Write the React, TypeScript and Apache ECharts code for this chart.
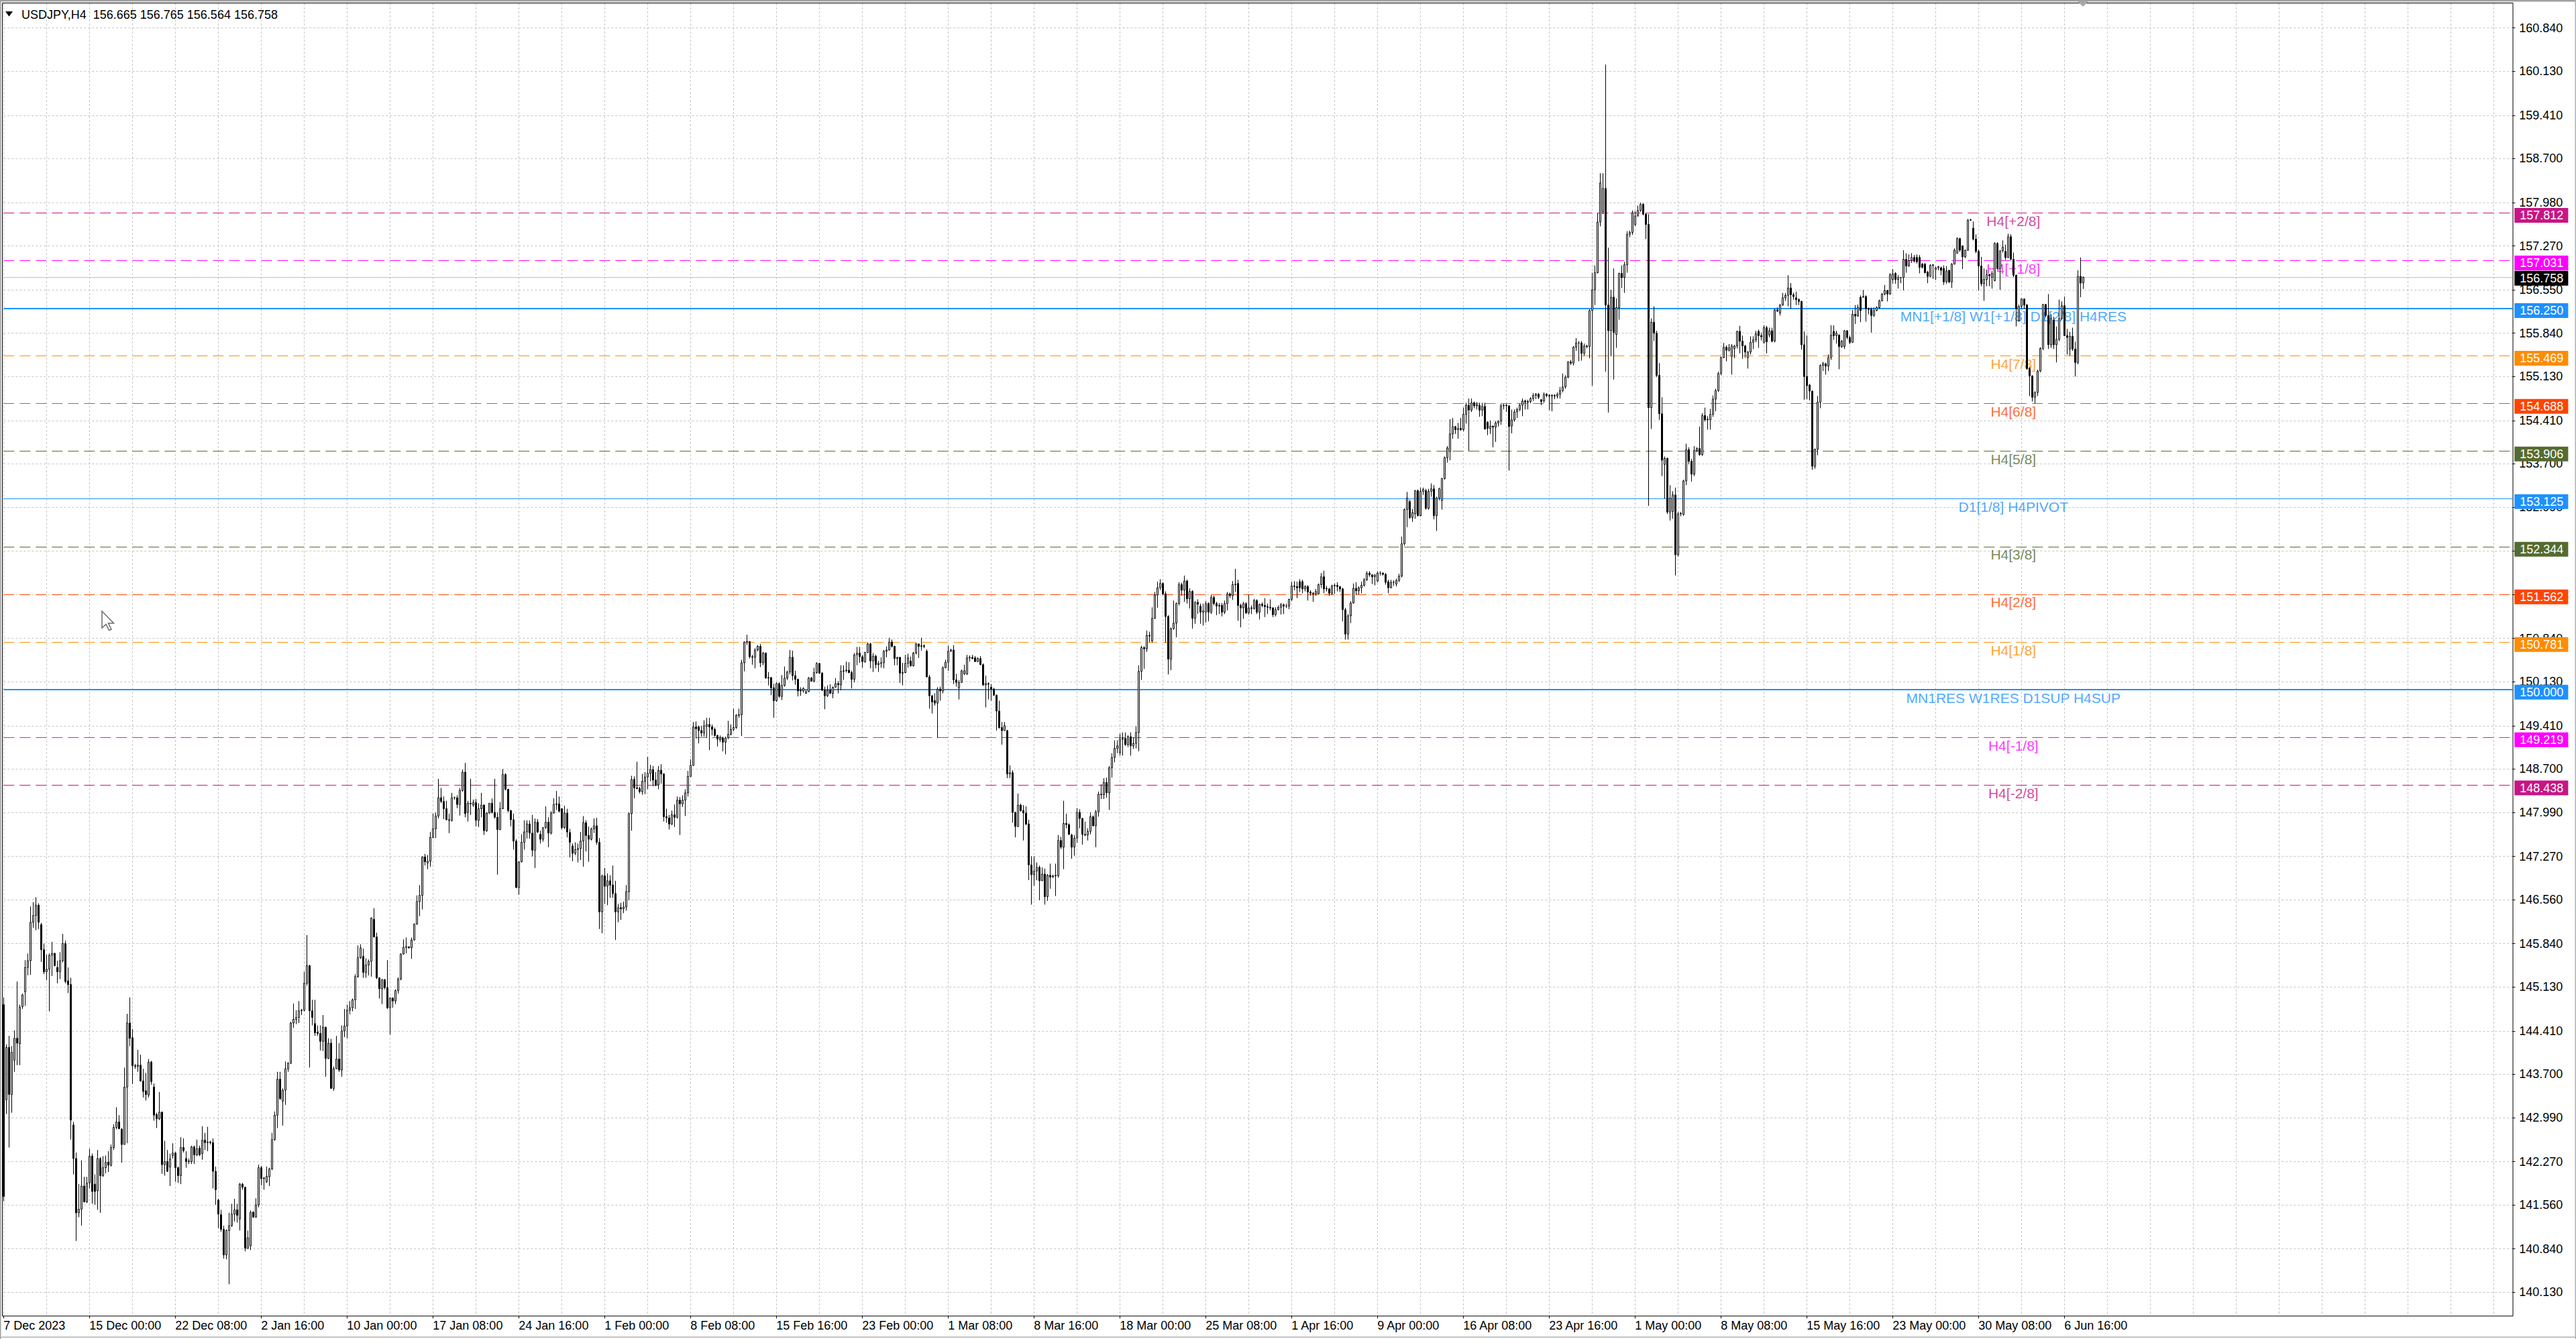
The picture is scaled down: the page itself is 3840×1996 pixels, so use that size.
import React, { useEffect, useRef } from "react";
import * as echarts from "echarts";

// ---------------- DATA ----------------
const symbolTitle = "USDJPY,H4";
const lastOHLC = [156.665, 156.765, 156.564, 156.758];

const xTickLabels = [
  "7 Dec 2023", "15 Dec 00:00", "22 Dec 08:00", "2 Jan 16:00", "10 Jan 00:00",
  "17 Jan 08:00", "24 Jan 16:00", "1 Feb 00:00", "8 Feb 08:00", "15 Feb 16:00",
  "23 Feb 00:00", "1 Mar 08:00", "8 Mar 16:00", "18 Mar 00:00", "25 Mar 08:00",
  "1 Apr 16:00", "9 Apr 00:00", "16 Apr 08:00", "23 Apr 16:00", "1 May 00:00",
  "8 May 08:00", "15 May 16:00", "23 May 00:00", "30 May 08:00", "6 Jun 16:00",
];

const yTicks = [
  140.13, 140.84, 141.56, 142.27, 142.99, 143.7, 144.41, 145.13, 145.84, 146.56,
  147.27, 147.99, 148.7, 149.41, 150.13, 150.84, 151.56, 152.27, 152.99, 153.7,
  154.41, 155.13, 155.84, 156.55, 157.27, 157.98, 158.7, 159.41, 160.13, 160.84,
];

const levelPrices = [157.812, 157.031, 156.25, 155.469, 154.688, 153.906, 153.125, 152.344, 151.562, 150.781, 150.0, 149.219, 148.438];
const levelNames = [
  "H4[+2/8]", "H4[+1/8]", "MN1[+1/8] W1[+1/8] D1[2/8] H4RES", "H4[7/8]", "H4[6/8]", "H4[5/8]",
  "D1[1/8] H4PIVOT", "H4[3/8]", "H4[2/8]", "H4[1/8]", "MN1RES W1RES D1SUP H4SUP", "H4[-1/8]", "H4[-2/8]",
];
const bidPrice = 156.758;

// candles: [open, close, low, high]
const candlesDec = [
[144.84,141.70,141.62,144.96],[143.28,144.14,143.05,144.19],[144.14,143.37,142.50,144.33],[143.37,144.06,143.07,144.16],
[143.93,144.29,143.74,144.42],[144.29,144.21,143.85,145.22],[144.20,144.80,143.85,144.84],[144.81,145.00,144.77,145.02],
[145.05,145.45,144.82,145.57],[145.45,145.56,145.32,145.68],[145.56,146.19,145.33,146.45],[146.19,146.30,146.10,146.52],
[146.30,146.47,146.06,146.60],[146.47,146.19,146.08,146.50],[146.15,145.74,145.54,146.18],[145.74,145.38,145.34,145.84],
[145.38,145.42,145.24,145.66],[145.42,145.65,144.73,145.68],[145.65,145.68,145.31,145.87],[145.68,145.48,145.47,145.69],
[145.45,145.38,145.19,145.56],[145.38,145.56,145.26,145.70],[145.56,145.84,145.53,146.00],[145.84,145.22,145.19,145.89],
[145.23,145.17,145.03,145.45],[145.17,142.95,142.63,145.28],[142.87,142.32,142.06,142.92],[142.32,141.43,140.97,142.42],
[141.43,141.49,141.36,141.90],[141.49,141.87,141.22,142.29],[141.87,141.61,141.60,142.02],[141.61,141.92,141.59,142.02],
[141.92,142.36,141.83,142.48],[142.36,141.78,141.58,142.40],[141.90,141.78,141.56,142.06],[141.79,142.32,141.48,142.46],
[142.32,142.04,141.43,142.34],[142.04,142.17,142.02,142.36],[142.17,142.26,142.08,142.37],[142.26,142.21,142.10,142.44],
[142.21,142.50,142.19,142.55],[142.50,142.83,142.46,142.88],[142.83,142.92,142.80,143.16],[142.92,142.81,142.80,143.03],
[142.80,142.55,142.25,142.82],[142.55,143.49,142.55,143.81],[143.49,144.54,142.57,144.69],[144.54,144.29,144.16,144.96],
[144.30,143.84,143.54,144.44],[143.84,143.83,143.79,143.87],[143.83,143.85,143.74,144.10],[143.85,143.59,143.58,144.02],
[143.59,143.42,143.32,143.79],[143.43,143.37,143.27,143.72],[143.36,143.90,143.32,143.95],[143.90,143.58,143.53,143.92],
[143.49,143.03,142.94,143.55],[143.04,142.97,142.82,143.07],[142.97,143.08,142.95,143.41],[143.08,142.22,142.07,143.09],
[142.22,142.27,142.04,142.61],[142.27,142.11,142.10,142.46],[142.18,142.31,141.87,142.40],[142.37,142.41,142.32,142.57],
[142.41,142.17,141.94,142.43],[142.17,142.04,141.92,142.19],[142.04,142.50,141.90,142.67],[142.50,142.45,142.42,142.65],
[142.32,142.27,142.17,142.44],[142.27,142.28,142.23,142.32],[142.27,142.51,142.23,142.53],[142.51,142.38,142.23,142.53],
[142.38,142.48,142.36,142.63],[142.49,142.38,142.36,142.53],[142.40,142.62,142.30,142.85],[142.62,142.58,142.46,142.74],
[142.58,142.59,142.44,142.84],[142.59,142.58,142.55,142.61],[142.58,142.11,141.83,142.65],[142.11,141.81,141.56,142.19],
[141.64,141.41,141.18,141.66],[141.40,141.16,141.12,141.48],[141.16,140.74,140.68,141.22],[140.74,141.14,140.67,141.16],
[141.14,141.22,140.26,141.43],[141.22,141.41,141.20,141.58],[141.41,141.48,141.29,141.66],[141.48,141.39,141.27,141.58],
[141.33,141.90,141.14,141.92],[141.90,141.85,141.81,141.92],[141.85,140.85,140.80,141.85],[140.85,141.02,140.84,141.14],
];

const candlesJan = [
[140.89,141.44,140.82,141.47],[141.44,141.36,141.35,141.46],[141.36,141.56,141.35,141.67],[141.56,142.17,141.52,142.22],
[142.17,141.99,141.88,142.20],[141.99,142.00,141.81,142.02],[141.94,142.03,141.92,142.19],[142.02,142.15,141.87,142.17],
[142.15,142.63,142.13,142.74],[142.63,143.03,142.61,143.09],[143.03,143.62,142.82,143.74],[143.62,143.30,143.28,143.74],
[143.26,143.44,142.86,143.47],[143.44,143.79,143.20,143.91],[143.79,143.88,143.74,143.90],[143.88,144.54,143.87,144.56],
[144.54,144.60,144.46,144.86],[144.60,144.63,144.52,144.75],[144.63,144.74,144.54,144.90],[144.74,144.75,144.67,144.77],
[144.75,145.19,144.73,145.38],[145.19,145.48,145.15,145.98],[145.48,144.74,143.81,145.49],[144.74,144.63,144.50,144.92],
[144.53,144.38,144.33,144.92],[144.39,144.37,144.33,144.50],[144.37,144.24,144.09,144.50],[144.24,144.47,144.08,144.67],
[144.47,143.96,143.66,144.48],[143.96,144.21,143.95,144.29],[144.21,143.47,143.46,144.28],[143.47,143.79,143.43,143.83],
[143.79,143.95,143.79,144.33],[143.95,143.77,143.74,144.21],[143.77,144.41,143.66,144.50],[144.41,144.49,144.31,144.77],
[144.49,144.75,144.29,144.84],[144.75,144.79,144.68,144.90],[144.79,144.92,144.73,144.94],[144.92,145.30,144.77,145.34],
[145.30,145.61,145.28,145.81],[145.61,145.77,145.59,145.83],[145.63,145.37,145.28,145.76],[145.37,145.49,145.28,145.60],
[145.49,145.55,145.32,145.58],[145.55,146.26,145.30,146.27],[146.24,145.95,145.94,146.42],[145.95,145.28,145.26,146.02],
[145.28,145.10,144.94,145.29],[145.10,145.25,144.85,145.26],[145.25,145.12,145.09,145.26],[145.12,144.79,144.77,145.57],
[144.79,144.95,144.35,144.96],[144.95,144.90,144.79,144.96],[144.90,145.07,144.85,145.09],[145.07,145.26,145.02,145.29],
[145.26,145.67,145.24,145.68],[145.67,145.78,145.66,145.91],[145.78,145.79,145.68,145.94],[145.79,145.77,145.76,145.79],
[145.77,145.90,145.59,145.94],[145.90,146.16,145.89,146.17],[146.16,146.53,146.15,146.63],[146.53,146.63,146.29,146.80],
[146.63,147.26,146.40,147.27],[147.26,147.18,147.12,147.31],[147.16,147.19,147.06,147.29],[147.19,147.58,147.10,147.67],
[147.58,147.72,147.57,147.97],[147.72,147.93,147.57,147.99],[147.93,148.23,147.89,148.54],[148.23,148.17,148.14,148.39],
[148.17,148.05,147.88,148.25],[148.05,147.87,147.86,148.18],[147.87,147.86,147.65,147.97],[147.86,148.23,147.84,148.31],
[148.23,148.23,148.20,148.25],[148.23,148.12,148.06,148.27],[148.12,148.35,147.94,148.39],[148.35,148.65,148.33,148.69],
[148.65,147.97,147.91,148.80],[147.99,148.14,147.84,148.18],[148.14,148.13,147.95,148.54],[148.11,148.15,148.08,148.20],
[148.15,147.86,147.76,148.21],[147.86,148.05,147.75,148.14],[148.05,148.11,147.91,148.31],[148.11,147.69,147.62,148.12],
[147.69,147.98,147.67,147.99],[147.98,148.14,147.97,148.14],[148.14,147.99,147.97,148.22],[147.99,147.91,147.89,148.54],
[147.91,147.71,146.97,147.99],[147.71,148.05,147.70,148.16],[148.05,148.61,148.05,148.70],[148.61,148.37,148.35,148.63],
[148.37,148.02,147.99,148.37],[148.02,147.87,147.76,148.03],[147.87,147.52,147.38,147.97],[147.52,146.76,146.75,147.55],
[146.76,147.18,146.64,147.19],[147.18,147.50,147.17,147.63],[147.50,147.67,147.38,147.86],[147.67,147.80,147.56,147.86],
[147.80,147.65,147.56,147.86],[147.65,147.37,147.27,147.95],[147.37,147.83,147.08,147.89],[147.83,147.67,147.65,147.88],
[147.63,147.55,147.48,147.69],[147.55,147.74,147.51,147.75],[147.74,147.83,147.72,148.09],[147.83,147.65,147.42,147.91],
[147.65,147.98,147.63,148.01],[147.98,148.12,147.97,148.22],[148.12,148.13,148.03,148.34],[148.13,148.01,147.99,148.25],
[148.05,147.74,147.71,148.06],[147.74,147.98,147.72,148.10],[147.98,147.67,147.58,148.05],[147.66,147.50,147.25,147.72],
[147.44,147.32,147.19,147.48],[147.32,147.38,147.29,147.50],[147.38,147.40,147.17,147.48],[147.40,147.52,147.21,147.67],
[147.52,147.82,147.10,147.93],[147.82,147.61,147.35,147.86],[147.61,147.55,147.18,147.76],[147.55,147.72,147.53,147.74],
[147.72,147.77,147.65,147.89],[147.77,147.50,147.46,147.90],[147.50,146.36,146.08,147.57],[146.36,146.95,146.01,146.97],
];

const candlesFeb = [
[146.95,146.78,146.49,147.08],[146.78,146.87,146.47,146.99],[146.87,146.80,146.59,146.96],[146.80,146.66,146.59,147.12],
[146.66,146.36,145.90,146.87],[146.36,146.43,146.19,146.49],[146.43,146.41,146.23,146.51],[146.41,146.44,146.34,146.53],
[146.44,146.69,146.38,146.80],[146.69,147.97,146.55,147.99],[147.97,148.53,147.69,148.59],[148.53,148.39,148.22,148.58],
[148.39,148.38,148.37,148.82],[148.38,148.33,148.30,148.41],[148.33,148.50,148.28,148.62],[148.50,148.57,148.29,148.65],
[148.57,148.63,148.37,148.90],[148.63,148.69,148.50,148.77],[148.69,148.52,148.42,148.75],[148.52,148.44,148.42,148.65],
[148.44,148.68,148.37,148.75],[148.68,148.62,148.46,148.78],[148.62,147.92,147.84,148.63],[147.92,147.90,147.82,148.05],
[147.90,147.80,147.71,147.95],[147.80,147.95,147.78,148.02],[147.95,147.91,147.75,148.12],[147.91,148.19,147.89,148.25],
[148.19,148.13,147.62,148.24],[148.13,148.19,148.08,148.27],[148.19,148.31,147.93,148.37],[148.31,148.58,148.25,148.67],
[148.58,148.76,148.57,148.86],[148.76,149.39,148.75,149.47],[149.39,149.36,149.20,149.48],[149.39,149.33,149.12,149.41],
[149.33,149.29,149.23,149.41],[149.29,149.41,149.23,149.50],[149.40,149.43,149.21,149.54],[149.43,149.39,149.01,149.54],
[149.39,149.35,149.25,149.43],[149.35,149.25,149.23,149.38],[149.25,149.19,149.07,149.26],[149.18,149.21,149.14,149.25],
[149.21,149.14,148.99,149.23],[149.14,149.21,148.94,149.23],[149.21,149.27,149.19,149.49],[149.27,149.35,149.25,149.43],
[149.35,149.38,149.32,149.69],[149.38,149.58,149.36,149.60],[149.58,149.59,149.54,149.69],[149.59,150.44,149.24,150.49],
[150.44,150.78,150.30,150.79],[150.78,150.79,150.73,150.90],[150.79,150.54,150.51,150.79],[150.54,150.53,150.41,150.57],
[150.53,150.65,150.35,150.68],[150.65,150.71,150.63,150.73],[150.71,150.44,150.37,150.75],[150.44,150.60,150.40,150.62],
[150.60,150.19,150.18,150.61],[150.19,150.20,150.07,150.29],[150.20,150.03,149.91,150.20],[150.03,149.82,149.54,150.10],
[149.82,150.10,149.80,150.12],[150.10,149.89,149.87,150.12],[149.89,150.07,149.83,150.24],[150.07,150.19,150.05,150.38],
[150.19,150.29,150.16,150.31],[150.29,150.53,150.25,150.65],[150.53,150.23,150.15,150.64],[150.23,150.17,150.08,150.31],
[150.17,149.98,149.89,150.18],[149.98,149.99,149.90,150.04],[149.98,150.02,149.95,150.04],[149.94,149.97,149.93,150.00],
[149.97,150.19,149.96,150.21],[150.19,150.14,150.13,150.21],[150.14,150.28,150.12,150.36],[150.28,150.43,150.26,150.45],
[150.43,150.27,150.26,150.44],[150.27,149.99,149.98,150.29],[149.99,149.90,149.68,150.05],[149.90,149.99,149.88,150.07],
[149.99,149.94,149.93,150.09],[149.94,150.04,149.86,150.05],[150.04,150.10,150.03,150.19],[150.10,150.08,149.94,150.14],
[150.08,150.30,149.99,150.40],[150.30,150.31,150.16,150.40],[150.31,150.32,150.28,150.46],[150.32,150.28,150.27,150.45],
[150.28,150.17,150.02,150.31],[150.17,150.57,150.12,150.60],[150.57,150.60,150.40,150.70],[150.60,150.54,150.44,150.70],
[150.54,150.46,150.36,150.57],[150.46,150.61,150.44,150.62],[150.61,150.75,150.60,150.77],[150.75,150.47,150.35,150.77],
[150.47,150.55,150.29,150.60],[150.55,150.41,150.35,150.57],[150.41,150.43,150.29,150.47],[150.43,150.44,150.36,150.53],
[150.44,150.63,150.35,150.65],[150.63,150.65,150.53,150.71],[150.65,150.78,150.64,150.85],[150.78,150.71,150.69,150.82],
[150.71,150.51,150.40,150.72],[150.51,150.53,150.40,150.54],[150.53,150.27,150.11,150.53],[150.27,150.28,150.07,150.44],
[150.28,150.43,150.27,150.57],[150.43,150.52,150.36,150.59],[150.47,150.39,150.38,150.54],[150.39,150.60,150.38,150.62],
[150.60,150.75,150.58,150.77],[150.75,150.71,150.52,150.75],[150.71,150.72,150.64,150.85],[150.72,150.71,150.68,150.74],
[150.63,150.21,150.20,150.66],[150.21,149.90,149.69,150.24],[149.90,149.80,149.61,149.91],[149.82,149.78,149.74,149.94],
[149.78,150.01,149.21,150.04],[150.01,149.98,149.82,150.05],
];

const candlesMar = [
[149.98,150.36,149.94,150.38],[150.36,150.45,150.35,150.49],[150.45,150.63,150.31,150.72],[150.63,150.65,150.62,150.67],
[150.65,150.16,150.09,150.73],[150.16,150.12,150.05,150.26],[150.03,150.12,149.84,150.16],[150.12,150.31,150.11,150.33],
[150.26,150.31,150.24,150.41],[150.26,150.52,150.24,150.57],[150.52,150.53,150.46,150.56],[150.53,150.51,150.50,150.57],
[150.52,150.46,150.46,150.55],[150.46,150.51,150.46,150.53],[150.51,150.41,150.40,150.55],[150.41,150.08,150.06,150.43],
[150.08,150.10,149.71,150.23],[150.10,150.09,149.84,150.12],[150.04,150.01,149.82,150.09],[150.01,149.91,149.90,150.03],
[149.91,149.65,149.33,149.92],[149.65,149.38,149.36,149.82],[149.38,149.33,149.10,149.47],[149.33,149.41,149.33,149.47],
[149.33,148.62,148.55,149.34],[148.62,148.64,148.55,148.76],[148.64,147.99,147.82,148.68],[147.99,147.76,147.58,148.00],
[147.76,148.11,147.75,148.30],[148.11,148.02,148.00,148.13],[148.02,147.98,147.53,148.11],[147.98,147.80,147.78,148.09],
[147.80,147.13,146.88,147.87],[147.13,146.97,146.48,147.27],[146.97,147.03,146.79,147.27],[147.03,147.09,146.88,147.17],
[147.09,146.87,146.55,147.12],[146.87,146.98,146.87,147.09],[146.98,146.61,146.48,147.07],[146.61,146.96,146.54,146.98],
[146.96,146.93,146.74,147.15],[146.93,146.95,146.92,146.97],[146.95,146.96,146.62,147.15],[146.95,147.53,146.92,147.62],
[147.53,147.42,147.39,147.59],[147.42,147.81,147.06,148.18],[147.81,147.79,147.73,147.97],[147.79,147.63,147.62,147.81],
[147.62,147.42,147.23,147.64],[147.42,147.57,147.28,147.62],[147.57,147.99,147.49,148.06],[147.99,147.89,147.73,148.04],
[147.89,147.63,147.46,147.90],[147.63,147.62,147.60,147.84],[147.62,147.68,147.53,147.73],[147.68,147.92,147.63,147.99],
[147.92,147.77,147.76,147.94],[147.77,148.00,147.42,148.03],[148.00,148.29,147.92,148.33],[148.29,148.28,148.21,148.45],
[148.28,148.48,148.21,148.55],[148.48,148.31,148.23,148.56],[148.31,148.72,148.03,148.75],[148.72,148.89,148.56,148.96],
[148.89,149.04,148.81,149.17],[149.04,149.08,148.96,149.17],[148.97,149.19,148.92,149.28],[149.19,149.20,148.92,149.30],
[149.20,149.10,149.08,149.30],[149.10,149.23,149.06,149.25],[149.23,149.08,148.92,149.30],[149.08,149.12,149.03,149.22],
[149.12,149.30,149.04,149.40],[149.30,150.30,148.99,150.40],[150.30,150.69,150.16,150.72],[150.69,150.67,150.34,150.71],
[150.67,150.89,150.62,150.97],[150.89,150.88,150.78,150.95],[150.80,151.17,150.77,151.35],[151.17,151.55,151.16,151.60],
[151.55,151.67,151.34,151.77],[151.67,151.74,151.63,151.81],[151.74,151.57,151.55,151.76],[151.57,151.20,150.77,151.61],
[151.20,150.50,150.25,151.22],[150.50,151.00,150.32,151.02],[151.00,151.09,150.98,151.46],[151.09,151.41,150.86,151.43],
[151.41,151.72,151.38,151.76],[151.72,151.63,151.54,151.75],[151.63,151.78,151.44,151.87],[151.78,151.49,151.41,151.80],
[151.49,151.61,151.33,151.66],[151.61,151.17,151.00,151.63],[151.17,151.43,151.08,151.45],[151.43,151.40,151.24,151.48],
[151.37,151.27,151.08,151.41],[151.27,151.29,151.05,151.41],[151.27,151.41,151.10,151.45],[151.41,151.27,151.12,151.43],
[151.27,151.51,151.24,151.55],[151.51,151.41,151.38,151.54],[151.41,151.37,151.22,151.44],[151.37,151.38,151.24,151.42],
[151.38,151.27,151.20,151.42],[151.27,151.41,151.24,151.46],[151.41,151.57,151.30,151.60],[151.57,151.54,151.50,151.59],
[151.54,151.72,151.47,151.78],[151.72,151.73,151.60,151.98],[151.74,151.38,151.13,151.80],[151.38,151.34,151.02,151.41],
[151.34,151.41,151.16,151.44],[151.41,151.26,151.24,151.43],[151.26,151.34,151.23,151.56],[151.34,151.33,151.24,151.38],
[151.33,151.46,151.31,151.49],[151.46,151.27,151.24,151.48],[151.27,151.40,151.15,151.41],[151.40,151.38,151.35,151.43],
[151.38,151.36,151.19,151.50],[151.36,151.35,151.24,151.41],[151.35,151.34,151.30,151.48],[151.34,151.23,151.19,151.35],
[151.23,151.31,151.20,151.35],[151.31,151.35,151.30,151.38],
];

const candlesApr = [
[151.35,151.39,151.23,151.42],[151.39,151.37,151.24,151.41],[151.37,151.37,151.34,151.41],[151.37,151.48,151.32,151.49],
[151.48,151.70,151.45,151.77],[151.70,151.69,151.63,151.78],[151.69,151.67,151.50,151.77],[151.77,151.67,151.60,151.81],
[151.77,151.65,151.58,151.80],[151.65,151.69,151.61,151.71],[151.69,151.60,151.46,151.71],[151.60,151.58,151.54,151.63],
[151.58,151.57,151.44,151.60],[151.57,151.61,151.54,151.65],[151.57,151.72,151.56,151.74],[151.72,151.85,151.66,151.91],
[151.85,151.65,151.58,151.95],[151.65,151.66,151.61,151.70],[151.65,151.58,151.54,151.67],[151.58,151.70,151.55,151.72],
[151.70,151.71,151.57,151.74],[151.71,151.69,151.61,151.76],[151.69,151.65,151.60,151.69],[151.65,151.31,151.12,151.67],
[151.31,150.91,150.82,151.34],[150.91,151.21,150.82,151.24],[151.21,151.42,151.09,151.45],[151.42,151.66,151.41,151.74],
[151.66,151.62,151.55,151.76],[151.62,151.67,151.56,151.69],[151.67,151.71,151.58,151.77],[151.71,151.80,151.69,151.83],
[151.80,151.91,151.78,151.94],[151.91,151.88,151.85,151.94],[151.88,151.85,151.73,151.89],[151.85,151.88,151.71,151.89],
[151.78,151.91,151.76,151.94],[151.91,151.91,151.87,151.94],[151.91,151.89,151.87,151.92],[151.89,151.76,151.72,151.91],
[151.77,151.67,151.58,151.80],[151.67,151.76,151.66,151.80],[151.76,151.76,151.70,151.79],[151.73,151.79,151.69,151.82],
[151.79,151.86,151.76,151.90],[151.86,152.39,151.84,152.51],[152.39,152.95,152.36,152.97],[152.95,153.14,152.66,153.24],
[153.08,152.82,152.80,153.11],[152.82,152.90,152.75,152.96],[152.88,153.26,152.80,153.27],[153.26,152.85,152.84,153.28],
[152.85,153.25,152.84,153.31],[153.25,153.28,153.19,153.31],[153.26,152.97,152.95,153.29],[152.97,153.25,152.95,153.29],
[153.25,153.29,153.16,153.38],[153.29,152.85,152.79,153.35],[152.85,153.14,152.60,153.16],[153.14,153.29,153.10,153.31],
[153.10,153.46,152.95,153.47],[153.46,153.80,153.44,153.82],[153.80,153.96,153.72,153.99],[153.90,154.19,153.76,154.43],
[154.19,154.31,154.11,154.45],[154.31,154.26,154.19,154.32],[154.26,154.28,154.11,154.37],[154.28,154.26,154.24,154.45],
[154.26,154.51,154.23,154.62],[154.51,154.66,154.36,154.70],[154.66,154.58,153.91,154.77],[154.58,154.70,154.55,154.77],
[154.70,154.65,154.61,154.72],[154.65,154.67,154.59,154.71],[154.66,154.58,154.47,154.70],[154.58,154.64,154.48,154.70],
[154.64,154.27,154.26,154.70],[154.38,154.28,154.17,154.40],[154.28,154.32,154.19,154.41],[154.32,154.30,153.97,154.32],
[154.30,154.37,154.06,154.40],[154.37,154.40,154.31,154.41],[154.40,154.65,154.34,154.68],[154.65,154.66,154.59,154.68],
[154.66,154.65,154.55,154.68],[154.65,154.31,153.59,154.66],[154.32,154.42,154.20,154.59],[154.42,154.55,154.39,154.59],
[154.55,154.59,154.45,154.62],[154.59,154.66,154.56,154.69],[154.66,154.73,154.48,154.77],[154.73,154.71,154.59,154.75],
[154.71,154.72,154.59,154.75],[154.72,154.77,154.69,154.79],[154.77,154.82,154.73,154.86],[154.82,154.84,154.76,154.86],
[154.84,154.79,154.76,154.86],[154.75,154.72,154.66,154.76],[154.73,154.84,154.70,154.87],[154.84,154.82,154.79,154.86],
[154.82,154.81,154.58,154.84],[154.81,154.82,154.56,154.84],[154.82,154.81,154.76,154.84],[154.81,154.84,154.77,154.87],
[154.84,154.90,154.77,154.96],[154.90,154.96,154.87,155.18],[154.96,155.12,154.93,155.15],[155.12,155.37,155.10,155.38],
[155.37,155.35,155.32,155.40],[155.35,155.61,155.31,155.63],[155.61,155.68,155.55,155.76],[155.68,155.68,155.38,155.71],
[155.68,155.51,155.39,155.71],[155.51,155.63,155.47,155.67],[155.63,155.62,155.59,155.65],[155.62,156.21,155.43,156.23],
[156.21,156.55,154.98,156.83],[156.55,156.83,156.30,156.95],[156.83,157.66,156.82,157.81],[157.66,158.30,157.59,158.46],
[157.83,158.21,157.79,158.46],[158.21,156.30,155.21,160.24],[156.30,155.88,154.54,157.24],[155.88,156.43,155.46,156.55],
[156.43,155.85,155.08,156.90],[155.82,156.26,155.60,156.41],[156.26,156.82,156.06,156.83],[156.82,156.75,156.58,156.95],
[156.75,156.96,156.50,157.01],[156.96,157.46,156.83,157.51],[157.46,157.49,157.41,157.52],[157.49,157.81,157.45,157.85],
];

const candlesMay = [
[157.62,157.76,157.59,157.84],[157.76,157.85,157.75,157.93],[157.85,157.95,157.83,157.98],[157.95,157.79,157.77,157.97],
[157.79,157.62,157.38,157.81],[157.62,154.62,153.01,157.79],[154.62,156.02,154.27,156.08],[156.02,155.84,155.71,156.28],
[155.84,155.15,155.12,155.88],[155.15,154.52,154.42,155.35],[154.52,153.76,153.50,154.79],[153.69,153.79,153.13,153.82],
[153.79,152.91,152.88,153.80],[152.91,153.14,152.77,153.35],[152.92,153.19,152.80,153.25],[153.19,152.21,151.87,153.31],
[152.21,152.88,152.18,152.91],[152.88,152.89,152.84,152.91],[152.87,153.42,152.85,153.44],[153.42,153.93,153.35,154.03],
[153.93,153.74,153.69,153.97],[153.74,153.53,153.41,153.78],[153.53,153.92,153.50,153.99],[153.92,153.95,153.89,153.97],
[153.95,153.85,153.83,154.31],[153.85,154.49,153.83,154.53],[154.49,154.42,154.39,154.62],[154.42,154.43,154.26,154.48],
[154.42,154.51,154.26,154.60],[154.51,154.76,154.47,154.82],[154.76,154.90,154.56,154.93],[154.90,155.18,154.88,155.21],
[155.18,155.44,155.15,155.46],[155.44,155.61,155.43,155.68],[155.61,155.56,155.38,155.64],[155.56,155.60,155.54,155.66],
[155.46,155.63,155.16,155.66],[155.59,155.63,155.43,155.65],[155.63,155.87,155.59,155.88],[155.87,155.71,155.51,155.96],
[155.71,155.63,155.42,155.80],[155.63,155.53,155.44,155.65],[155.44,155.53,155.26,155.55],[155.53,155.69,155.49,155.79],
[155.69,155.73,155.58,155.79],[155.73,155.83,155.69,155.88],[155.87,155.80,155.60,155.90],[155.80,155.78,155.72,155.85],
[155.69,155.93,155.67,155.97],[155.93,155.70,155.51,155.96],[155.81,155.88,155.77,155.93],[155.88,155.71,155.69,155.93],
[155.71,156.22,155.69,156.24],[156.22,156.20,156.19,156.26],[156.17,156.30,156.13,156.32],[156.30,156.42,156.29,156.50],
[156.42,156.46,156.37,156.50],[156.46,156.58,156.28,156.79],[156.58,156.47,156.24,156.66],[156.47,156.44,156.39,156.50],
[156.42,156.39,156.30,156.52],[156.39,156.36,156.30,156.41],[156.36,155.65,155.57,156.37],[155.65,155.13,154.75,155.87],
[155.13,154.98,154.76,155.80],[154.99,154.89,154.74,155.01],[154.89,153.66,153.60,154.90],[153.66,153.94,153.62,153.95],
[153.94,154.71,153.84,154.81],[154.71,155.31,154.61,155.33],[155.31,155.34,155.22,155.37],[155.34,155.30,155.16,155.35],
[155.30,155.44,155.22,155.49],[155.44,155.81,155.40,155.97],[155.87,155.80,155.73,155.97],[155.80,155.84,155.67,155.88],
[155.81,155.62,155.25,155.82],[155.62,155.71,155.60,155.73],[155.62,155.88,155.58,155.89],[155.88,155.77,155.74,155.89],
[155.77,155.69,155.66,155.80],[155.69,156.15,155.68,156.22],[156.15,156.12,155.99,156.30],[156.12,156.26,156.11,156.31],
[156.43,156.21,156.02,156.46],[156.43,156.44,156.42,156.55],[156.44,156.24,156.03,156.46],[156.24,156.23,156.15,156.26],
[156.24,156.13,155.85,156.26],[156.13,156.21,156.11,156.26],[156.21,156.26,156.20,156.28],[156.26,156.37,156.24,156.39],
[156.37,156.48,156.36,156.50],[156.48,156.54,156.46,156.63],[156.54,156.48,156.36,156.55],[156.48,156.80,156.47,156.82],
[156.72,156.81,156.65,156.89],[156.82,156.72,156.65,156.84],[156.72,156.75,156.57,156.79],[156.75,156.75,156.66,156.76],
[156.75,157.05,156.54,157.20],[157.05,156.94,156.83,157.15],[156.94,157.03,156.93,157.13],[157.03,157.08,156.99,157.15],
[157.08,157.02,157.00,157.12],[157.08,157.01,156.98,157.13],[157.08,156.92,156.82,157.12],[156.97,156.92,156.90,156.99],
[156.97,156.83,156.82,156.99],[156.84,156.77,156.66,156.86],[156.77,156.95,156.76,156.97],[156.95,156.96,156.73,156.97],
[156.88,156.91,156.71,156.93],[156.91,156.93,156.87,156.94],[156.91,156.87,156.79,156.93],[156.90,156.68,156.63,156.95],
[156.68,156.86,156.65,156.94],[156.87,156.68,156.66,156.88],[156.68,156.97,156.58,156.99],[156.97,157.20,156.97,157.23],
[157.15,157.39,157.14,157.41],[157.39,157.20,157.17,157.40],[157.27,157.09,156.89,157.27],[157.09,157.20,157.07,157.21],
[157.20,157.69,157.19,157.71],[157.69,157.70,157.68,157.71],[157.56,157.38,157.36,157.67],[157.38,157.18,157.15,157.46],
[157.18,156.94,156.54,157.21],[156.94,156.65,156.61,157.09],[156.65,156.72,156.37,156.90],[156.72,156.80,156.61,156.88],
[156.80,156.78,156.61,156.81],[156.75,156.82,156.57,156.86],[156.70,157.31,156.69,157.33],[157.31,156.90,156.88,157.33],
[156.90,157.19,156.55,157.20],[157.19,157.25,157.16,157.36],
];

const candlesJun = [
[157.18,157.08,157.04,157.29],[157.08,157.42,157.07,157.47],[157.42,157.05,157.04,157.46],[157.05,156.79,156.76,157.16],
[156.79,156.24,155.95,156.80],[156.04,156.28,156.03,156.31],[156.28,156.40,156.24,156.41],[156.40,156.30,156.24,156.41],
[156.30,155.26,155.24,156.32],[155.26,155.14,154.81,155.29],[155.14,154.79,154.72,155.15],[154.79,154.87,154.69,154.89],
[154.87,155.22,154.81,155.24],[155.22,155.59,155.20,155.61],[155.59,156.31,155.56,156.32],[156.31,156.13,156.10,156.32],
[156.13,155.65,155.58,156.48],[155.65,156.08,155.60,156.15],[156.05,155.65,155.58,156.11],[155.65,155.74,155.36,155.95],
[155.74,156.08,155.71,156.39],[156.08,156.29,156.06,156.36],[156.29,155.80,155.79,156.44],[155.80,155.77,155.49,155.91],
[155.58,155.79,155.47,155.86],[155.79,155.58,155.55,155.93],[155.58,155.36,155.13,155.70],[155.36,156.77,155.33,156.87],
[156.77,156.66,156.43,157.08],[156.665,156.758,156.564,156.765],
];

// ---------------- LAYOUT / STYLE ----------------
const W = 3840;
const H = 1996;
const FONT = "'Liberation Sans', Arial, Helvetica, sans-serif";
const BAR_STEP = 4;
const N_SLOTS = 936;
const GRID_LEFT = 5.3;
const GRID_TOP = 5;
const GRID_W = BAR_STEP * (N_SLOTS - 1);
const GRID_H = 1956.3;
const PX_PER_YEN = 91;
const Y_MIN = 139.745;
const Y_MAX = Y_MIN + GRID_H / PX_PER_YEN;
const LABEL_BAR = 749;
const LAST_LABEL_SLOT = 32 * (xTickLabels.length - 1);
const BOX_SHIFT_PX = 4;
const BID_BOX_SHIFT_PX = 1.5;

const levelColors = ["#C71585", "#FF00FF", "#1E90FF", "#FF8C00", "#FF4500", "#556B2F", "#1E90FF", "#556B2F", "#FF4500", "#FF8C00", "#1E90FF", "#FF00FF", "#C71585"];
const levelLineKinds = ["dash", "dash", "solid2", "dash", "dash", "dash", "solid1", "dash", "dash", "dash", "solid2", "dash", "dash"];

function boxLabel(text: string, bg: string) {
  return {
    show: true,
    position: "end",
    distance: 3,
    formatter: text,
    color: "#ffffff",
    backgroundColor: bg,
    padding: [2, 7, 2, 8],
    fontSize: 18,
    lineHeight: 18,
    fontFamily: FONT,
    opacity: 1,
  };
}

function buildOption() {
  const candles = [
    ...candlesDec, ...candlesJan, ...candlesFeb, ...candlesMar,
    ...candlesApr, ...candlesMay, ...candlesJun,
  ];
  const cats = Array.from({ length: N_SLOTS }, (_, i) => String(i));
  const isLabelSlot = (i: number) => i % 32 === 0 && i <= LAST_LABEL_SLOT;

  // level lines (no labels)
  const lineData: any[] = levelPrices.map((p, i) => {
    const kind = levelLineKinds[i];
    return {
      yAxis: p,
      lineStyle: {
        color: levelColors[i],
        width: kind === "solid2" ? 2 : 1,
        type: kind === "dash" ? [16, 8] : "solid",
      },
      label: { show: false },
    };
  });
  lineData.push({
    yAxis: bidPrice,
    lineStyle: { color: "#c0c0c0", width: 1, type: "solid" },
    label: { show: false },
  });

  // price boxes on the right (invisible carrier lines, slightly below the level)
  const shift = BOX_SHIFT_PX / PX_PER_YEN;
  const boxData: any[] = levelPrices.map((p, i) => ({
    yAxis: p - shift,
    lineStyle: { color: "rgba(255,255,255,0)", width: 1, type: "solid" },
    label: boxLabel(p.toFixed(3), levelColors[i]),
  }));
  boxData.push({
    yAxis: bidPrice - BID_BOX_SHIFT_PX / PX_PER_YEN,
    lineStyle: { color: "rgba(255,255,255,0)", width: 1, type: "solid" },
    label: boxLabel(bidPrice.toFixed(3), "#000000"),
  });

  const textData = levelPrices.map((p, i) => ({
    name: levelNames[i],
    value: [LABEL_BAR, p],
    label: { color: levelColors[i] },
  }));

  const cursorTip = [152, 911];
  const cursorPts = [[0, 0], [0, 25], [6, 19.5], [10.5, 28.5], [14, 27], [9.5, 18], [17.5, 18]].map(
    ([x, y]) => [cursorTip[0] + x, cursorTip[1] + y]
  );

  const headerText =
    symbolTitle + "  " + lastOHLC.map((v) => v.toFixed(3)).join(" ");

  return {
    animation: false,
    backgroundColor: "#ffffff",
    textStyle: { fontFamily: FONT },
    grid: { left: GRID_LEFT, top: GRID_TOP, width: GRID_W, height: GRID_H, containLabel: false },
    xAxis: {
      type: "category",
      data: cats,
      boundaryGap: false,
      axisLine: { show: false },
      axisTick: {
        show: true,
        interval: (i: number) => isLabelSlot(i),
        length: 4,
        lineStyle: { color: "#000000", width: 1 },
      },
      axisLabel: {
        show: true,
        interval: (i: number) => isLabelSlot(i),
        align: "left",
        margin: 6,
        fontSize: 18,
        color: "#000000",
        fontFamily: FONT,
        formatter: (v: string) => {
          const i = Number(v);
          return isLabelSlot(i) ? xTickLabels[i / 32] : "";
        },
      },
      splitLine: {
        show: true,
        interval: 15,
        lineStyle: { color: "#c4c4c4", width: 1, type: [3, 3] },
      },
    },
    yAxis: {
      type: "value",
      position: "right",
      min: Y_MIN,
      max: Y_MAX,
      axisLine: { show: false },
      axisTick: {
        show: true,
        length: 4,
        customValues: yTicks,
        lineStyle: { color: "#000000", width: 1 },
      },
      axisLabel: {
        show: true,
        customValues: yTicks,
        margin: 10,
        fontSize: 18,
        color: "#000000",
        fontFamily: FONT,
        formatter: (v: number) => v.toFixed(3),
      },
      splitLine: {
        show: true,
        lineStyle: { color: "#c4c4c4", width: 1, type: [3, 3] },
      },
    },
    series: [
      {
        type: "scatter",
        data: textData,
        symbol: "circle",
        symbolSize: 1,
        itemStyle: { color: "rgba(0,0,0,0)", borderWidth: 0 },
        silent: true,
        z: 1,
        clip: false,
        label: {
          show: true,
          formatter: "{b}",
          position: "bottom",
          distance: 1,
          fontSize: 21,
          fontFamily: FONT,
        },
        labelLayout: { hideOverlap: false },
        emphasis: { disabled: true },
      },
      {
        type: "line",
        data: [],
        silent: true,
        z: 2,
        markLine: {
          silent: true,
          symbol: ["none", "none"],
          animation: false,
          z: 2,
          emphasis: { disabled: true },
          data: lineData,
        },
      },
      {
        type: "line",
        data: [],
        silent: true,
        z: 8,
        markLine: {
          silent: true,
          symbol: ["none", "none"],
          animation: false,
          z: 8,
          emphasis: { disabled: true },
          data: boxData,
        },
      },
      {
        type: "candlestick",
        data: candles,
        large: false,
        barWidth: 3,
        silent: true,
        z: 5,
        clip: true,
        emphasis: { disabled: true },
        itemStyle: {
          color: "#ffffff",
          color0: "#000000",
          borderColor: "#000000",
          borderColor0: "#000000",
          borderColorDoji: "#000000",
          borderWidth: 1,
        },
      },
    ],
    graphic: [
      { type: "rect", silent: true, z: 100, shape: { x: 0, y: 0, width: W, height: 2.5 }, style: { fill: "#a0a0a0" } },
      { type: "rect", silent: true, z: 100, shape: { x: 0, y: 0, width: 1.5, height: H }, style: { fill: "#a0a0a0" } },
      { type: "rect", silent: true, z: 100, shape: { x: 0, y: 1992.5, width: W, height: 1.5 }, style: { fill: "#b0b0b0" } },
      { type: "rect", silent: true, z: 100, shape: { x: W - 1.5, y: 0, width: 1.5, height: H }, style: { fill: "#b0b0b0" } },
      {
        type: "rect", silent: true, z: 100,
        shape: { x: 3.5, y: 4.5, width: 3742.5, height: 1957.3 },
        style: { fill: "none", stroke: "#000000", lineWidth: 1 },
      },
      {
        type: "polygon", silent: true, z: 100,
        shape: { points: [[3097, 2], [3113, 2], [3105, 10]] },
        style: { fill: "#a8a8a8" },
      },
      {
        type: "polygon", silent: true, z: 100,
        shape: { points: [[8, 17], [19, 17], [13.5, 24.5]] },
        style: { fill: "#000000" },
      },
      {
        type: "text", silent: true, z: 100, x: 32, y: 22,
        style: { text: headerText, fill: "#000000", fontSize: 18, fontFamily: FONT, verticalAlign: "middle", align: "left" },
      },
      {
        type: "polygon", silent: true, z: 100,
        shape: { points: cursorPts },
        style: { fill: "#ffffff", stroke: "#6a6a6a", lineWidth: 1.5 },
      },
    ],
  };
}

export default function App() {
  const ref = useRef<HTMLDivElement>(null);
  useEffect(() => {
    document.body.style.margin = "0";
    const el = ref.current;
    if (!el) return;
    const chart = echarts.init(el, null, { renderer: "svg", width: W, height: H });
    chart.setOption(buildOption() as any);
    return () => {
      chart.dispose();
    };
  }, []);
  return (
    <div
      ref={ref}
      style={{ position: "absolute", left: 0, top: 0, width: W, height: H, background: "#ffffff" }}
    />
  );
}
